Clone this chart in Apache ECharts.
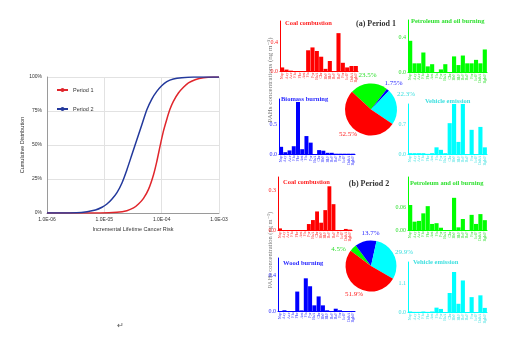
<!DOCTYPE html>
<html><head><meta charset="utf-8">
<script src="https://cdn.jsdelivr.net/npm/echarts@6/dist/echarts.min.js"></script>
<style>html,body{margin:0;padding:0;background:#fff}#c{width:515px;height:339px}</style>
</head><body><div id="c"></div>
<script>
// ---------- data ----------
const riskTicks = ['1.0E-06', '1.0E-05', '1.0E-04', '1.0E-03'];
const cdfTicks = ['0%', '25%', '50%', '75%', '100%'];
const seriesNames = ['Period 1', 'Period 2'];
const riskP1 = [1e-6, 8.5e-6, 1.66e-5, 2.47e-5, 3.23e-5, 3.94e-5, 4.82e-5, 5.89e-5, 7.19e-5, 8.22e-5, 9.4e-5, 1.07e-4, 1.23e-4, 1.4e-4, 1.6e-4, 1.96e-4, 2.4e-4, 2.93e-4, 3.83e-4, 5.35e-4, 7.98e-4, 1e-3];
const cdfP1  = [0, 0, 0.5, 1.7, 3.7, 6.6, 10.8, 17.4, 28.0, 37.8, 49.4, 60.0, 69.0, 76.4, 82.1, 88.2, 92.4, 95.6, 98.0, 99.5, 100, 100];
const riskP2 = [1e-6, 3.3e-6, 5e-6, 7e-6, 9.1e-6, 1.11e-5, 1.35e-5, 1.66e-5, 2.02e-5, 2.47e-5, 3.02e-5, 3.69e-5, 4.51e-5, 5.51e-5, 6.73e-5, 8.22e-5, 1e-4, 1.23e-4, 1.6e-4, 2.24e-4, 3.58e-4, 1e-3];
const cdfP2  = [0, 0.25, 1.0, 2.2, 4.2, 6.6, 10.1, 15.0, 21.9, 31.7, 42.8, 53.8, 64.9, 75.9, 83.8, 89.4, 93.6, 96.6, 98.5, 99.5, 100, 100];

const pahLabels = ['Nap','Acy','Ace','Flu','Phe','Ant','Fla','Pyr','BaA','Chr','BbF','BkF','BeP','BaP','Per','IcdP','DahA','BghiP'];
const p1Coal    = [0.05, 0.02, 0.005, 0, 0, 0, 0.29, 0.33, 0.28, 0.20, 0.03, 0.14, 0, 0.53, 0.115, 0.05, 0.07, 0.07];
const p1Petro   = [0.36, 0.10, 0.10, 0.225, 0.065, 0.09, 0, 0.03, 0.09, 0, 0.18, 0.08, 0.19, 0.10, 0.10, 0.14, 0.10, 0.26];
const p1Biomass = [0.12, 0.03, 0.06, 0.13, 0.87, 0.08, 0.30, 0.19, 0, 0.065, 0.055, 0.02, 0.02, 0.005, 0.005, 0.005, 0.005, 0.005];
const p1Vehicle = [0.02, 0.02, 0.02, 0.02, 0.005, 0.02, 0.16, 0.10, 0.02, 0.74, 1.2, 0.29, 1.2, 0, 0.58, 0, 0.65, 0.16];
const p2Coal    = [0.012, 0, 0, 0, 0, 0, 0, 0.045, 0.075, 0.14, 0.055, 0.15, 0.33, 0.195, 0, 0, 0.008, 0.003];
const p2Petro   = [0.066, 0.022, 0.024, 0.044, 0.063, 0.016, 0.018, 0.006, 0, 0, 0.085, 0.007, 0.029, 0, 0.04, 0.016, 0.042, 0.026];
const p2Wood    = [0, 0.008, 0, 0, 0.22, 0.007, 0.37, 0.28, 0.064, 0.165, 0.064, 0.008, 0, 0.026, 0.008, 0, 0, 0];
const p2Vehicle = [0.02, 0.005, 0.005, 0.02, 0.005, 0.02, 0.17, 0.12, 0, 0.74, 1.56, 0.32, 1.23, 0, 0.58, 0, 0.65, 0.16];

const p1CoalTicks = ['0.0', '0.4'];
const p1PetroTicks = ['0.0', '0.4'];
const p1BiomassTicks = ['0.0', '0.5'];
const p1VehicleTicks = ['0.0', '0.7'];
const p2CoalTicks = ['0.0', '0.3'];
const p2PetroTicks = ['0.00', '0.06'];
const p2WoodTicks = ['0.0', '0.4'];
const p2VehicleTicks = ['0.0', '1.1'];

const pieSources = ['Petroleum and oil burning', 'Biomass burning', 'Vehicle emission', 'Coal combustion'];
const pie1Values = [23.5, 1.75, 22.3, 52.5];
const pie1Labels = ['23.5%', '1.75%', '22.3%', '52.5%'];
const pie2Values = [4.5, 13.7, 29.9, 51.9];
const pie2Labels = ['4.5%', '13.7%', '29.9%', '51.9%'];

// ---------- styling / layout ----------
const RED = '#ff0000', GREEN = '#00ff00', BLUE = '#0000ff', CYAN = '#00ffff';
const T_RED = '#ff2020', T_GREEN = '#30e030', T_BLUE = '#2a2aff', T_CYAN = '#40e0e0';
const SERIF = '"Liberation Serif", "DejaVu Serif", serif';
const SANS = '"Liberation Sans", Arial, sans-serif';

const panels = [
  {data: p1Coal, c: RED, t: T_RED, title: 'Coal combustion', max: 0.7, ticks: p1CoalTicks, g: [280, 21, 78, 50], tx: 285, ty: 23},
  {data: p1Petro, c: GREEN, t: T_GREEN, title: 'Petroleum and oil burning', max: 0.6, ticks: p1PetroTicks, g: [408, 20, 79, 52], tx: 411, ty: 21},
  {data: p1Biomass, c: BLUE, t: T_BLUE, title: 'Biomass burning', max: 0.92, ticks: p1BiomassTicks, g: [279, 99, 76, 55], tx: 281, ty: 99},
  {data: p1Vehicle, c: CYAN, t: T_CYAN, title: 'Vehicle emission', max: 1.2, ticks: p1VehicleTicks, g: [408, 104, 79, 50], tx: 425, ty: 101},
  {data: p2Coal, c: RED, t: T_RED, title: 'Coal combustion', max: 0.4, ticks: p2CoalTicks, g: [278, 177, 74, 53], tx: 283, ty: 182},
  {data: p2Petro, c: GREEN, t: T_GREEN, title: 'Petroleum and oil burning', max: 0.14, ticks: p2PetroTicks, g: [408, 177, 79, 53], tx: 410, ty: 183},
  {data: p2Wood, c: BLUE, t: T_BLUE, title: 'Wood burning', max: 0.6, ticks: p2WoodTicks, g: [278, 258, 77, 53], tx: 283, ty: 263},
  {data: p2Vehicle, c: CYAN, t: T_CYAN, title: 'Vehicle emission', max: 1.95, ticks: p2VehicleTicks, g: [408, 262, 79, 50], tx: 413, ty: 262}
];

const grid = [{left: 47, top: 77, width: 172, height: 136}];
const xAxis = [{
  type: 'log', logBase: 10, gridIndex: 0, min: 1e-6, max: 1e-3,
  axisLine: {lineStyle: {color: '#9a9a9a'}}, axisTick: {show: false},
  splitLine: {show: true, lineStyle: {color: '#e2e2e2', width: 1}},
  axisLabel: {fontSize: 5, fontFamily: SANS, color: '#333', margin: 4,
    formatter: v => riskTicks[Math.round(Math.log10(v)) + 6] || ''},
  name: 'Incremental Lifetime Cancer Risk', nameLocation: 'middle', nameGap: 13,
  nameTextStyle: {fontSize: 5.5, fontFamily: SANS, color: '#333'}
}];
const yAxis = [{
  type: 'value', gridIndex: 0, min: 0, max: 100, interval: 25,
  axisLine: {show: true, lineStyle: {color: '#9a9a9a'}}, axisTick: {show: false},
  splitLine: {show: true, lineStyle: {color: '#e2e2e2', width: 1}},
  axisLabel: {fontSize: 5, fontFamily: SANS, color: '#333', margin: 5,
    formatter: v => cdfTicks[Math.round(v / 25)]},
  name: 'Cumulative Distribution', nameLocation: 'middle', nameGap: 20, nameRotate: 90,
  nameTextStyle: {fontSize: 5.5, fontFamily: SANS, color: '#333'}
}];
const series = [
  {name: seriesNames[0], type: 'line', xAxisIndex: 0, yAxisIndex: 0, symbol: 'none', smooth: 0.2,
   lineStyle: {color: '#e0262c', width: 1.5}, itemStyle: {color: '#e0262c'},
   data: riskP1.map((r, i) => [r, cdfP1[i]])},
  {name: seriesNames[1], type: 'line', xAxisIndex: 0, yAxisIndex: 0, symbol: 'none', smooth: 0.2,
   lineStyle: {color: '#23399c', width: 1.5}, itemStyle: {color: '#23399c'},
   data: riskP2.map((r, i) => [r, cdfP2[i]])}
];
const graphic = [];

panels.forEach((p, k) => {
  const gi = k + 1;
  grid.push({left: p.g[0], top: p.g[1], width: p.g[2], height: p.g[3]});
  xAxis.push({
    type: 'category', gridIndex: gi, data: pahLabels,
    axisLine: {lineStyle: {color: p.c, width: 1}}, axisTick: {show: false},
    axisLabel: {interval: 0, rotate: 90, fontSize: 4, fontFamily: SERIF, color: p.t, margin: 1.5}
  });
  const tickVals = p.ticks.map(parseFloat);
  yAxis.push({
    type: 'value', gridIndex: gi, min: 0, max: p.max, interval: tickVals[1],
    axisLine: {show: true, lineStyle: {color: p.c, width: 1}}, axisTick: {show: false},
    splitLine: {show: false},
    axisLabel: {fontSize: 6, fontFamily: SERIF, color: p.t, margin: 2, showMaxLabel: false,
      formatter: v => { const j = tickVals.findIndex(t => Math.abs(t - v) < 1e-9); return j >= 0 ? p.ticks[j] : ''; }}
  });
  series.push({
    type: 'bar', xAxisIndex: gi, yAxisIndex: gi, data: p.data, barCategoryGap: '6%',
    itemStyle: {color: p.c}, silent: true
  });
  graphic.push({type: 'text', x: p.tx, y: p.ty, style: {text: p.title, fill: p.t,
    font: 'bold 6.5px ' + SERIF, align: 'left', verticalAlign: 'middle'}});
});

const pieColors = [GREEN, BLUE, CYAN, RED];
const pieTextColors = [T_GREEN, T_BLUE, T_CYAN, T_RED];
series.push({
  type: 'pie', center: [371, 109.5], radius: 26, startAngle: 137, silent: true,
  label: {show: false}, labelLine: {show: false},
  data: pie1Values.map((v, i) => ({name: pieSources[i], value: v, itemStyle: {color: pieColors[i]}}))
});
series.push({
  type: 'pie', center: [371, 266], radius: 25.5, startAngle: 143, silent: true,
  label: {show: false}, labelLine: {show: false},
  data: pie2Values.map((v, i) => ({name: pieSources[i], value: v, itemStyle: {color: pieColors[i]}}))
});

const pie1LabelPos = [[367.5, 75], [393.5, 83], [406, 94], [348, 134]];
const pie2LabelPos = [[338.5, 249], [370.5, 233], [404, 252], [354, 294]];
pie1Labels.forEach((s, i) => graphic.push({type: 'text', x: pie1LabelPos[i][0], y: pie1LabelPos[i][1],
  style: {text: s, fill: pieTextColors[i], font: '7px ' + SERIF, align: 'center', verticalAlign: 'middle'}}));
pie2Labels.forEach((s, i) => graphic.push({type: 'text', x: pie2LabelPos[i][0], y: pie2LabelPos[i][1],
  style: {text: s, fill: pieTextColors[i], font: '7px ' + SERIF, align: 'center', verticalAlign: 'middle'}}));

graphic.push({type: 'text', x: 376, y: 24, style: {text: '(a) Period 1', fill: '#333', font: 'bold 8px ' + SERIF, align: 'center', verticalAlign: 'middle'}});
graphic.push({type: 'text', x: 369, y: 184, style: {text: '(b) Period 2', fill: '#333', font: 'bold 8px ' + SERIF, align: 'center', verticalAlign: 'middle'}});
graphic.push({type: 'text', x: 270, y: 80, rotation: Math.PI / 2, style: {text: 'PAHs concentrations (ng m⁻³)', fill: '#777', font: '7px ' + SERIF, align: 'center', verticalAlign: 'middle'}});
graphic.push({type: 'text', x: 270, y: 250, rotation: Math.PI / 2, style: {text: 'PAHs concentration (ng m⁻³)', fill: '#777', font: '6.5px ' + SERIF, align: 'center', verticalAlign: 'middle'}});
graphic.push({type: 'text', x: 120, y: 326, style: {text: '↵', fill: '#555', font: '8px ' + SANS, align: 'center', verticalAlign: 'middle'}});

const chart = echarts.init(document.getElementById('c'), null, {renderer: 'canvas'});
chart.setOption({
  animation: false,
  backgroundColor: '#fff',
  legend: {data: seriesNames, orient: 'vertical', left: 51, top: 82, itemWidth: 11, itemHeight: 5, itemGap: 13,
    textStyle: {fontSize: 5.5, fontFamily: SANS, color: '#333'}, selectedMode: false},
  grid, xAxis, yAxis, series, graphic
});
</script>
</body></html>
